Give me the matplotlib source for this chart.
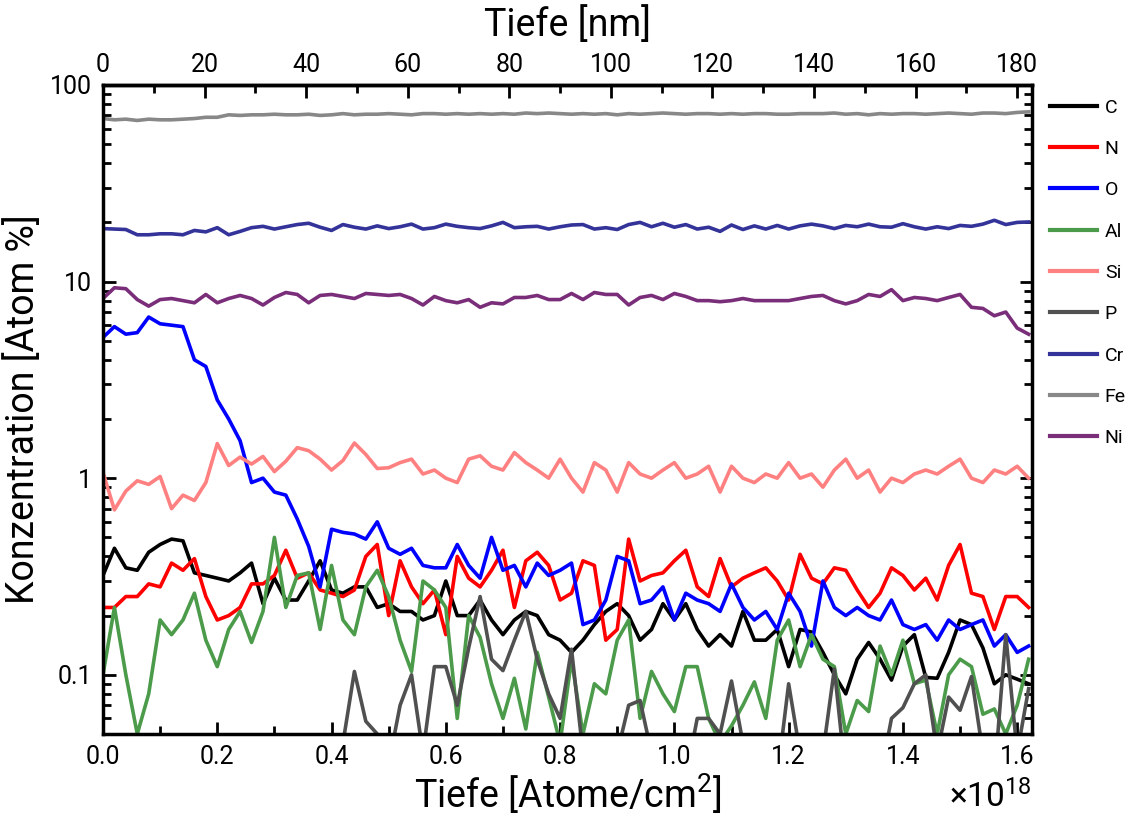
import numpy as np
import matplotlib
matplotlib.use("Agg")
import matplotlib.pyplot as plt
from matplotlib.ticker import MultipleLocator, LogLocator, FixedLocator, FixedFormatter, FormatStrFormatter

plt.rcParams['font.family'] = ['Roboto', 'DejaVu Sans']
plt.rcParams['mathtext.fontset'] = 'custom'
plt.rcParams['mathtext.rm'] = 'Roboto'
plt.rcParams['mathtext.it'] = 'Roboto:italic'
plt.rcParams['mathtext.bf'] = 'Roboto:bold'

# depth in units of 1e18 atoms/cm^2, step 0.02
depth = np.round(np.arange(0, 1.621, 0.02), 2)
NM_PER_1E18 = 112.5

elements = ["C", "N", "O", "Al", "Si", "P", "Cr", "Fe", "Ni"]
colors = ["#000000", "#ff0000", "#0000ff", "#4b9b4b", "#ff8080",
          "#505050", "#333399", "#888888", "#7a2e7a"]

conc_C = [0.32, 0.44, 0.35, 0.34, 0.42, 0.46, 0.49, 0.48, 0.33, 0.32,
          0.31, 0.30, 0.33, 0.37, 0.23, 0.31, 0.24, 0.24, 0.30, 0.38,
          0.27, 0.26, 0.28, 0.28, 0.22, 0.23, 0.21, 0.21, 0.19, 0.20,
          0.30, 0.20, 0.20, 0.24, 0.19, 0.16, 0.19, 0.21, 0.20, 0.16,
          0.15, 0.13, 0.15, 0.18, 0.21, 0.23, 0.20, 0.15, 0.17, 0.23,
          0.19, 0.23, 0.17, 0.14, 0.16, 0.14, 0.21, 0.15, 0.15, 0.17,
          0.11, 0.17, 0.165, 0.13, 0.10, 0.08, 0.12, 0.146, 0.12, 0.094,
          0.14, 0.16, 0.097, 0.096, 0.13, 0.19, 0.18, 0.137, 0.09, 0.10,
          0.095, 0.09]

conc_N = [0.22, 0.22, 0.25, 0.25, 0.29, 0.28, 0.37, 0.34, 0.39, 0.25,
          0.19, 0.20, 0.22, 0.29, 0.29, 0.32, 0.43, 0.31, 0.33, 0.27,
          0.26, 0.25, 0.27, 0.40, 0.46, 0.20, 0.38, 0.28, 0.23, 0.27,
          0.16, 0.40, 0.31, 0.28, 0.34, 0.43, 0.22, 0.38, 0.42, 0.36,
          0.24, 0.26, 0.38, 0.36, 0.15, 0.17, 0.49, 0.30, 0.32, 0.33,
          0.38, 0.43, 0.28, 0.25, 0.39, 0.28, 0.31, 0.33, 0.35, 0.30,
          0.24, 0.41, 0.31, 0.29, 0.35, 0.34, 0.27, 0.22, 0.26, 0.35,
          0.32, 0.27, 0.31, 0.24, 0.36, 0.46, 0.26, 0.25, 0.17, 0.25,
          0.25, 0.22]

conc_O = [5.2, 5.9, 5.4, 5.5, 6.6, 6.1, 6.0, 5.9, 4.0, 3.7,
          2.5, 2.0, 1.55, 0.95, 1.0, 0.85, 0.82, 0.62, 0.45, 0.28,
          0.55, 0.53, 0.52, 0.49, 0.60, 0.44, 0.41, 0.44, 0.36, 0.35,
          0.35, 0.46, 0.36, 0.31, 0.50, 0.34, 0.36, 0.28, 0.37, 0.32,
          0.34, 0.37, 0.18, 0.19, 0.24, 0.40, 0.38, 0.23, 0.24, 0.28,
          0.19, 0.26, 0.24, 0.23, 0.21, 0.29, 0.22, 0.19, 0.21, 0.17,
          0.26, 0.21, 0.14, 0.30, 0.22, 0.20, 0.22, 0.20, 0.19, 0.24,
          0.18, 0.17, 0.18, 0.15, 0.19, 0.17, 0.18, 0.19, 0.14, 0.16,
          0.13, 0.14]

conc_Al = [0.10, 0.22, 0.10, 0.05, 0.08, 0.19, 0.16, 0.19, 0.26, 0.15,
           0.11, 0.17, 0.21, 0.146, 0.21, 0.50, 0.22, 0.32, 0.33, 0.17,
           0.36, 0.19, 0.16, 0.28, 0.34, 0.25, 0.15, 0.104, 0.30, 0.27,
           0.22, 0.06, 0.20, 0.155, 0.09, 0.06, 0.096, 0.053, 0.13, 0.077,
           0.045, 0.12, 0.05, 0.09, 0.08, 0.15, 0.19, 0.06, 0.104, 0.08,
           0.065, 0.11, 0.11, 0.06, 0.045, 0.055, 0.07, 0.092, 0.06, 0.15,
           0.19, 0.11, 0.16, 0.12, 0.11, 0.05, 0.074, 0.065, 0.14, 0.10,
           0.15, 0.09, 0.094, 0.05, 0.10, 0.12, 0.11, 0.063, 0.067, 0.05,
           0.07, 0.12]

conc_Si = [1.07, 0.69, 0.86, 0.97, 0.93, 1.02, 0.70, 0.82, 0.77, 0.95,
           1.50, 1.16, 1.28, 1.18, 1.29, 1.08, 1.22, 1.43, 1.38, 1.25,
           1.10, 1.23, 1.51, 1.32, 1.12, 1.13, 1.20, 1.25, 1.05, 1.10,
           1.00, 0.95, 1.25, 1.30, 1.15, 1.10, 1.35, 1.20, 1.10, 1.00,
           1.25, 1.00, 0.85, 1.20, 1.10, 0.85, 1.20, 1.05, 1.00, 1.10,
           1.20, 1.00, 1.05, 1.15, 0.85, 1.15, 1.00, 0.95, 1.05, 1.00,
           1.20, 1.00, 1.05, 0.90, 1.10, 1.25, 1.00, 1.10, 0.85, 1.00,
           0.95, 1.05, 1.10, 1.05, 1.15, 1.25, 1.00, 0.95, 1.10, 1.05,
           1.15, 1.00]

conc_P = [0.03, 0.03, 0.03, 0.03, 0.03, 0.03, 0.03, 0.03, 0.03, 0.03,
          0.03, 0.03, 0.03, 0.03, 0.03, 0.03, 0.03, 0.03, 0.03, 0.03,
          0.03, 0.045, 0.104, 0.058, 0.05, 0.035, 0.07, 0.10, 0.04, 0.11,
          0.11, 0.07, 0.137, 0.25, 0.12, 0.105, 0.15, 0.21, 0.12, 0.08,
          0.06, 0.135, 0.04, 0.03, 0.03, 0.04, 0.07, 0.074, 0.04, 0.03,
          0.03, 0.03, 0.06, 0.06, 0.05, 0.093, 0.045, 0.03, 0.03, 0.03,
          0.09, 0.04, 0.03, 0.04, 0.107, 0.03, 0.03, 0.03, 0.03, 0.06,
          0.068, 0.09, 0.10, 0.04, 0.077, 0.066, 0.098, 0.04, 0.03, 0.16,
          0.04, 0.085]

conc_Cr = [18.6, 18.5, 18.4, 17.3, 17.3, 17.5, 17.5, 17.3, 18.2, 17.9,
           18.8, 17.3, 18.0, 18.8, 19.1, 18.5, 19.0, 19.5, 19.8, 18.9,
           18.2, 19.5, 18.9, 18.5, 19.2, 18.6, 19.0, 19.6, 18.5, 18.8,
           19.6, 19.1, 18.8, 18.6, 19.2, 20.0, 18.8, 19.0, 19.1, 18.5,
           19.0, 19.4, 19.5, 18.5, 18.8, 18.4, 19.5, 20.0, 19.0, 19.8,
           18.9, 19.5, 18.5, 18.9, 18.0, 19.4, 18.4, 19.2, 18.5, 19.3,
           18.5, 19.2, 19.6, 19.2, 18.6, 19.3, 19.0, 19.6, 19.0, 18.9,
           19.7, 19.0, 18.5, 19.0, 18.6, 19.3, 19.1, 19.6, 20.5, 19.5,
           20.0, 20.1]

conc_Fe = [67.5, 66.5, 67.0, 66.0, 67.0, 66.5, 66.5, 67.0, 67.5, 68.5,
           68.5, 70.5, 70.0, 70.5, 70.5, 71.0, 70.5, 70.5, 71.0, 70.0,
           70.5, 71.5, 70.5, 71.0, 71.0, 71.5, 71.0, 70.5, 71.5, 71.5,
           71.0, 71.5, 71.0, 71.5, 71.0, 71.5, 71.0, 72.0, 71.5, 72.0,
           71.5, 71.0, 71.5, 71.0, 71.5, 70.5, 71.5, 71.0, 71.5, 72.0,
           71.5, 71.0, 71.5, 71.5, 71.0, 71.5, 71.0, 71.5, 71.5, 71.0,
           71.0, 71.5, 71.5, 71.5, 72.0, 71.0, 71.5, 70.5, 71.5, 71.0,
           71.5, 71.5, 71.0, 71.5, 72.0, 71.5, 71.0, 72.0, 72.0, 71.5,
           72.5, 73.0]

conc_Ni = [8.2, 9.3, 9.2, 8.1, 7.5, 8.1, 8.2, 8.0, 7.8, 8.6,
           7.8, 8.2, 8.5, 8.2, 7.6, 8.3, 8.8, 8.6, 7.8, 8.5,
           8.6, 8.4, 8.2, 8.7, 8.6, 8.5, 8.6, 8.2, 7.6, 8.4,
           8.0, 7.8, 8.1, 7.4, 7.8, 7.7, 8.3, 8.3, 8.5, 8.1,
           8.1, 8.7, 8.1, 8.8, 8.6, 8.6, 7.6, 8.3, 8.5, 8.1,
           8.7, 8.4, 8.0, 8.0, 7.9, 8.0, 8.2, 8.0, 8.0, 8.0,
           8.0, 8.2, 8.4, 8.5, 8.0, 7.7, 8.0, 8.6, 8.4, 9.1,
           8.0, 8.3, 8.2, 8.0, 8.3, 8.6, 7.4, 7.3, 6.7, 7.0,
           5.8, 5.4]

series = [conc_C, conc_N, conc_O, conc_Al, conc_Si, conc_P, conc_Cr, conc_Fe, conc_Ni]

fig = plt.figure(figsize=(11.33, 8.21), dpi=100)
ax = fig.add_axes([0.0909, 0.106, 0.82, 0.7905])

for name, col, vals in zip(elements, colors, series):
    ax.plot(depth, vals, color=col, lw=2.6, label=name)

ax.set_yscale('log')
ax.set_ylim(0.05, 100)
ax.set_xlim(0, 1.626)

# y ticks
ax.yaxis.set_major_locator(FixedLocator([0.1, 1, 10, 100]))
ax.yaxis.set_major_formatter(FixedFormatter(["0.1", "1", "10", "100"]))
ax.yaxis.set_minor_locator(LogLocator(base=10, subs=np.arange(2, 10), numticks=20))
ax.yaxis.set_minor_formatter(plt.NullFormatter())

# x ticks (depth given in 1e18 atoms/cm^2)
ax.xaxis.set_major_locator(MultipleLocator(0.2))
ax.xaxis.set_minor_locator(MultipleLocator(0.1))
ax.xaxis.set_major_formatter(FormatStrFormatter('%.1f'))
ax.text(1.0, -0.097, r"$\times$10$^{18}$", transform=ax.transAxes,
        ha='right', va='center', fontsize=24)

ax.tick_params(which='both', direction='in', right=True, top=False, width=2)
ax.tick_params(which='major', length=9, labelsize=18, pad=8)
ax.tick_params(which='minor', length=6)

for sp in ax.spines.values():
    sp.set_linewidth(2.5)

ax.set_xlabel("Tiefe [Atome/cm$^2$]", fontsize=27, labelpad=2)
ax.set_ylabel("Konzentration [Atom %]", fontsize=27, labelpad=6)

# top axis in nm
top = ax.secondary_xaxis('top', functions=(lambda v: v * NM_PER_1E18,
                                           lambda v: v / NM_PER_1E18))
top.xaxis.set_major_locator(FixedLocator(np.arange(0, 181, 20)))
top.xaxis.set_minor_locator(FixedLocator(np.arange(10, 181, 20)))
top.tick_params(which='both', direction='in', width=2)
top.tick_params(which='major', length=9, labelsize=18, pad=6)
top.tick_params(which='minor', length=6)
top.spines['top'].set_linewidth(2.5)
top.set_xlabel("Tiefe [nm]", fontsize=27, labelpad=12)

leg = ax.legend(loc='upper left', bbox_to_anchor=(1.005, 1.0), frameon=False,
                fontsize=14, handlelength=2.4, handletextpad=0.4,
                labelspacing=1.2, borderaxespad=0.3)
for line in leg.get_lines():
    line.set_linewidth(3)

fig.savefig("out.png", dpi=100)
